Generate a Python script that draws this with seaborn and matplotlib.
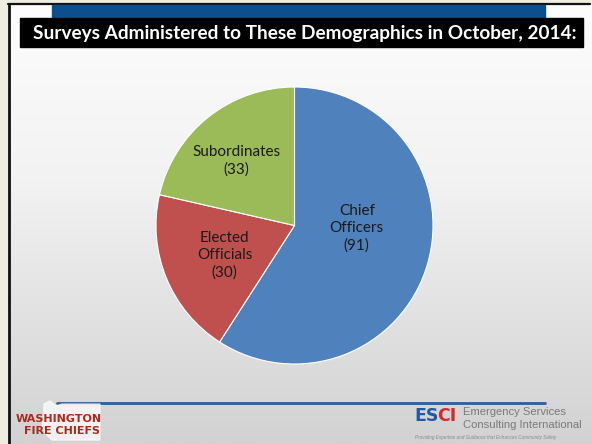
import numpy as np
import matplotlib
matplotlib.use("Agg")
import matplotlib.pyplot as plt
import seaborn as sns
from matplotlib.patches import Rectangle, Polygon

# ---- data ----
categories = ["Chief\nOfficers", "Elected\nOfficials", "Subordinates"]
counts = [91, 30, 33]
colors = ["#4F81BD", "#C0504D", "#9BBB59"]
title = "Surveys Administered to These Demographics in October, 2014:"

sns.set_theme(style="white")
plt.rcParams["font.family"] = ["Lato", "DejaVu Sans"]

W, H = 592, 444
fig = plt.figure(figsize=(W / 100, H / 100), dpi=100)
fig.patch.set_facecolor("#EFECE1")

# background / decoration axis in pixel coordinates
bg = fig.add_axes([0, 0, 1, 1])
bg.axis("off")

# slide gradient (white top -> light gray bottom)
grad = np.linspace(0, 1, 256)[:, None]
cmap = matplotlib.colors.LinearSegmentedColormap.from_list(
    "g", [(0, "#FDFDFD"), (0.4, "#F2F2F2"), (1, "#D2D2D2")])
bg.imshow(grad, extent=[9, W, H, 5], aspect="auto", cmap=cmap, zorder=0)
bg.set_xlim(0, W)
bg.set_ylim(H, 0)

# frame lines
bg.plot([8.5, 8.5], [4, H], color="#111111", lw=2, zorder=2)
bg.plot([8, 590], [4, 4], color="#111111", lw=1.6, zorder=2)

# blue top bar
bg.add_patch(Rectangle((52, 5), 493, 13, color="#0B4F8F", zorder=3))
# black title box
bg.add_patch(Rectangle((20, 18), 563, 29, color="#000000", zorder=3))
bg.text(305, 33, title, color="white", fontsize=13.7, fontweight="bold",
        ha="center", va="center", zorder=4)

# footer line
bg.plot([57, 545], [402.5, 402.5], color="#2E5C9E", lw=2, zorder=3)

# Washington silhouette (approximate)
wa = [(44, 404), (50, 401), (56, 406), (62, 404), (100, 404), (100, 440),
      (52, 440), (46, 434), (42, 426), (44, 416)]
bg.add_patch(Polygon(wa, closed=True, color="white", alpha=0.7, zorder=3))
bg.text(59, 419, "WASHINGTON", color="#B0281C", fontsize=8.0,
        fontweight="black", ha="center", va="center",
        zorder=4, family=["DejaVu Sans"])
bg.text(62, 430.5, "FIRE CHIEFS", color="#B0281C", fontsize=8.0,
        fontweight="black", ha="center", va="center",
        zorder=4, family=["DejaVu Sans"])

# ESCI logo
t1 = bg.text(414, 415.5, "ES", color="#1F5AA6", fontsize=12.5,
             fontweight="black", ha="left", va="center", zorder=4,
             family=["DejaVu Sans"])
fig.canvas.draw()
bb = t1.get_window_extent()
x_end = bg.transData.inverted().transform((bb.x1, bb.y0))[0]
bg.text(x_end - 1, 415.5, "CI", color="#D7262C", fontsize=12.5,
        fontweight="black", ha="left", va="center", zorder=4,
        family=["DejaVu Sans"])
bg.text(463, 412, "Emergency Services", color="#7A7A7A", fontsize=8.1,
        ha="left", va="center", zorder=4, family=["Liberation Sans"])
bg.text(463, 425, "Consulting International", color="#7A7A7A", fontsize=8.1,
        ha="left", va="center", zorder=4, family=["Liberation Sans"])
bg.text(415, 437.5, "Providing Expertise and Guidance that Enhances Community Safety",
        color="#8A8A8A", fontsize=3.3, style="italic", ha="left", va="center",
        zorder=4, family=["Liberation Sans"])

# ---- pie ----
cx, cy, r = 294.5, 225.5, 138.5
ax = fig.add_axes([(cx - r) / W, (H - cy - r) / H, 2 * r / W, 2 * r / H])
ax.set_facecolor("none")
wedges, _ = ax.pie(counts, colors=colors, startangle=90, counterclock=False,
                   wedgeprops=dict(edgecolor="white", linewidth=0.8))
ax.set_xlim(-1, 1)
ax.set_ylim(-1, 1)
ax.set_aspect("equal")
ax.axis("off")

# label placement: fraction of radius and angular shift (deg) per wedge
dist = [0.45, 0.55, 0.63]
shift = [13.5, 1.0, 3.5]
for w, cat, n, d, s in zip(wedges, categories, counts, dist, shift):
    ang = np.deg2rad((w.theta1 + w.theta2) / 2 + s)
    ax.text(d * np.cos(ang), d * np.sin(ang), f"{cat}\n({n})",
            ha="center", va="center", fontsize=11, color="#1A1A1A",
            linespacing=1.3)

fig.savefig("out.png", dpi=100, facecolor=fig.get_facecolor())
